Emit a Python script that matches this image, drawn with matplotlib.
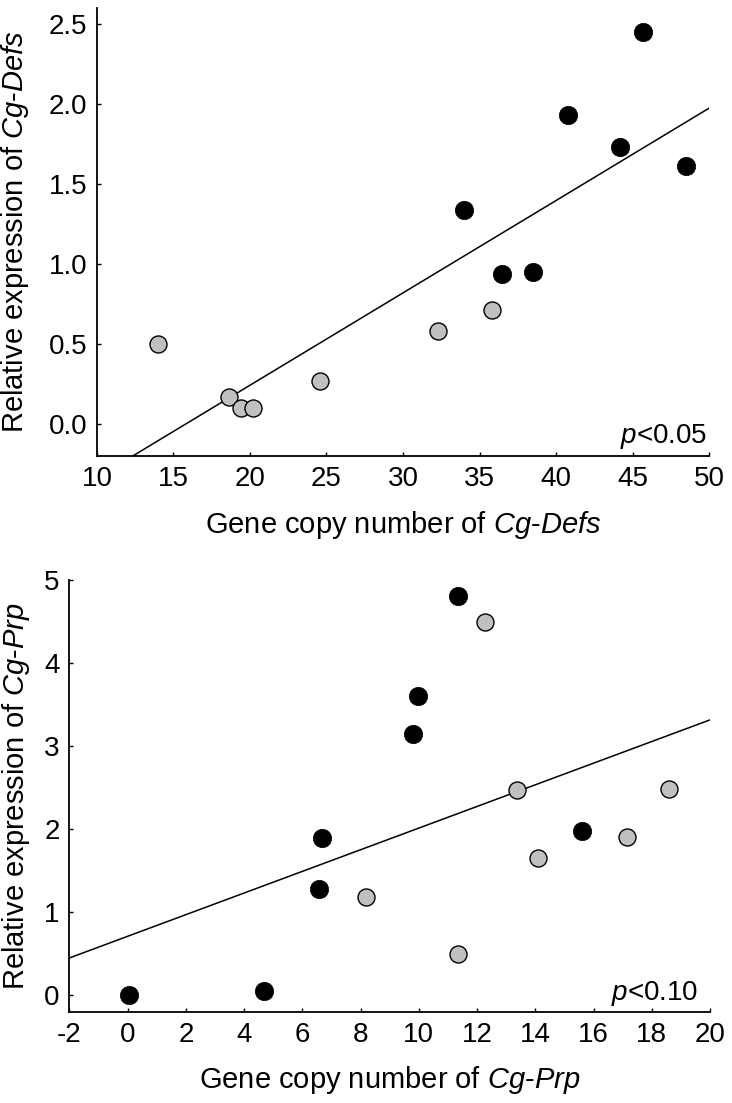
import matplotlib
matplotlib.use('Agg')
import matplotlib.pyplot as plt
import numpy as np

plt.rcParams['font.family'] = ['Liberation Sans', 'DejaVu Sans']
plt.rcParams['mathtext.fontset'] = 'custom'
plt.rcParams['mathtext.rm'] = 'Liberation Sans'
plt.rcParams['mathtext.it'] = 'Liberation Sans:italic'
plt.rcParams['axes.unicode_minus'] = False

# Cg-Defs panel
defs_gray_x = [14.0, 18.6, 19.4, 20.2, 24.6, 32.3, 35.8]
defs_gray_y = [0.50, 0.17, 0.10, 0.10, 0.27, 0.58, 0.71]
defs_black_x = [34.0, 36.5, 38.5, 40.8, 44.2, 45.7, 48.5]
defs_black_y = [1.34, 0.94, 0.95, 1.93, 1.73, 2.45, 1.61]

# Cg-Prp panel
prp_gray_x = [8.19, 11.34, 12.27, 13.38, 14.10, 17.15, 18.59]
prp_gray_y = [1.18, 0.50, 4.50, 2.47, 1.65, 1.91, 2.49]
prp_black_x = [0.05, 4.69, 6.58, 6.66, 9.80, 9.98, 11.34, 15.62]
prp_black_y = [0.00, 0.05, 1.28, 1.90, 3.15, 3.60, 4.81, 1.98]

GRAY = '#c0c0c0'
FS_TICK = 20
FS_LABEL = 21

fig = plt.figure(figsize=(7.32, 11.03), dpi=100)
ax1 = fig.add_axes([0.1325, 0.5866, 0.8361, 0.4062])
ax2 = fig.add_axes([0.0947, 0.0825, 0.8753, 0.3917])


def panel(ax, gx, gy, bx, by, xlim, ylim, xticks, yticks, yfmt, gene, ptext, ptx, pty, ylab_x, xlab_y):
    xs = np.array(gx + bx)
    ys = np.array(gy + by)
    k, b = np.polyfit(xs, ys, 1)
    lx = np.array(xlim, dtype=float)
    ax.plot(lx, k * lx + b, color='black', lw=1.1, zorder=1)
    ax.scatter(gx, gy, s=150, c=GRAY, edgecolors='black', linewidths=1.0, zorder=3)
    ax.scatter(bx, by, s=175, c='black', edgecolors='black', linewidths=0.5, zorder=3)

    ax.set_xlim(*xlim)
    ax.set_ylim(*ylim)
    ax.set_xticks(xticks)
    ax.set_yticks(yticks)
    ax.set_yticklabels([yfmt.format(v) for v in yticks])
    ax.set_xticklabels([str(v) for v in xticks])
    for s in ['top', 'right']:
        ax.spines[s].set_visible(False)
    for s in ['left', 'bottom']:
        ax.spines[s].set_linewidth(1.3)
    ax.tick_params(direction='in', length=3, width=1, labelsize=FS_TICK, pad=7)

    ax.set_xlabel('Gene copy number of $\\mathit{Cg}$-$\\mathit{' + gene + '}$', fontsize=FS_LABEL)
    ax.set_ylabel('Relative expression of $\\mathit{Cg}$-$\\mathit{' + gene + '}$', fontsize=FS_LABEL)
    ax.yaxis.set_label_coords(ylab_x, 0.5)
    ax.xaxis.set_label_coords(0.5, xlab_y)

    ax.text(ptx, pty, ptext, transform=ax.transAxes, ha='right', va='baseline', fontsize=FS_TICK)


panel(ax1, defs_gray_x, defs_gray_y, defs_black_x, defs_black_y,
      (10, 50), (-0.2, 2.6), list(range(10, 51, 5)), [0.0, 0.5, 1.0, 1.5, 2.0, 2.5], '{:.1f}',
      'Defs', '$\\mathit{p}$<0.05', 0.9967, 0.029, -0.108, -0.118)

panel(ax2, prp_gray_x, prp_gray_y, prp_black_x, prp_black_y,
      (-2, 20), (-0.2, 5.0), list(range(-2, 21, 2)), [0, 1, 2, 3, 4, 5], '{:d}',
      'Prp', '$\\mathit{p}$<0.10', 0.981, 0.028, -0.059, -0.12)

fig.savefig('out.png', dpi=100, facecolor='white')
